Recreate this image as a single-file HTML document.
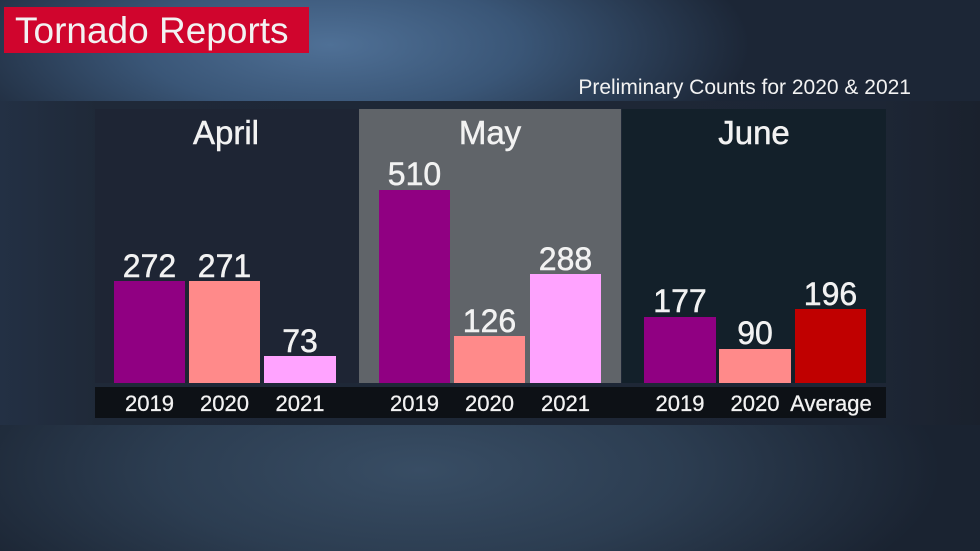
<!DOCTYPE html>
<html>
<head>
<meta charset="utf-8">
<style>
  html,body{margin:0;padding:0;background:#1c2534;}
  svg{display:block;}
  text{font-family:"Liberation Sans", Arial, sans-serif;fill:#f2f2f2;}
  .b{stroke:#f2f2f2;stroke-width:0.5;}
</style>
</head>
<body>
<svg width="980" height="551" viewBox="0 0 980 551" xmlns="http://www.w3.org/2000/svg">
  <defs>
    <radialGradient id="topg" cx="330" cy="45" r="420" gradientUnits="userSpaceOnUse" gradientTransform="translate(330 45) scale(1 0.35) translate(-330 -45)">
      <stop offset="0" stop-color="#4f7096"/>
      <stop offset="0.45" stop-color="#3a5677"/>
      <stop offset="1" stop-color="#1c2636"/>
    </radialGradient>
    <radialGradient id="botg" cx="420" cy="470" r="520" gradientUnits="userSpaceOnUse" gradientTransform="translate(420 470) scale(1 0.35) translate(-420 -470)">
      <stop offset="0" stop-color="#384d64"/>
      <stop offset="0.5" stop-color="#2c3d51"/>
      <stop offset="1" stop-color="#1a2331"/>
    </radialGradient>
    <linearGradient id="bandg" x1="0" y1="0" x2="1" y2="0">
      <stop offset="0" stop-color="#233044"/>
      <stop offset="0.1" stop-color="#1f2938"/>
      <stop offset="0.9" stop-color="#1d2635"/>
      <stop offset="1" stop-color="#1a212d"/>
    </linearGradient>
  </defs>

  <!-- background -->
  <rect x="0" y="0" width="980" height="551" fill="#1c2534"/>
  <rect x="0" y="0" width="980" height="101" fill="url(#topg)"/>
  <rect x="0" y="425" width="980" height="126" fill="url(#botg)"/>
  <rect x="0" y="101" width="980" height="324" fill="url(#bandg)"/>

  <!-- title -->
  <rect x="4" y="7" width="305" height="46" fill="#d0052d"/>
  <text x="15" y="43" font-size="37" fill="#efefef">Tornado Reports</text>

  <text x="911" y="94" font-size="21" text-anchor="end">Preliminary Counts for 2020 &amp; 2021</text>

  <!-- panels -->
  <rect x="95" y="109" width="264" height="274" fill="#1e2534"/>
  <rect x="359" y="109" width="262" height="274" fill="#606469"/>
  <rect x="622" y="109" width="264" height="274" fill="#13202a"/>

  <!-- label bar -->
  <rect x="95" y="387" width="791" height="31" fill="#0d1116"/>

  <!-- month titles -->
  <g class="b">
  <text x="226" y="144" font-size="33" text-anchor="middle">April</text>
  <text x="490" y="144" font-size="33" text-anchor="middle">May</text>
  <text x="754" y="144" font-size="33" text-anchor="middle">June</text>
  </g>

  <!-- April bars -->
  <rect x="114" y="281" width="71" height="102" fill="#900082"/>
  <rect x="189" y="281" width="71" height="102" fill="#ff8a8a"/>
  <rect x="264" y="356" width="72" height="27" fill="#ffa3ff"/>
  <!-- May bars -->
  <rect x="379" y="190" width="71" height="193" fill="#900082"/>
  <rect x="454" y="336" width="71" height="47" fill="#ff8a8a"/>
  <rect x="530" y="274" width="71" height="109" fill="#ffa3ff"/>
  <!-- June bars -->
  <rect x="644" y="317" width="72" height="66" fill="#900082"/>
  <rect x="719" y="349" width="72" height="34" fill="#ff8a8a"/>
  <rect x="795" y="309" width="71" height="74" fill="#c00000"/>

  <g class="b" font-size="32" text-anchor="middle">
    <text x="149.5" y="277">272</text>
    <text x="224.5" y="277">271</text>
    <text x="300" y="352">73</text>
    <text x="414.5" y="185">510</text>
    <text x="489.5" y="332">126</text>
    <text x="565.5" y="270">288</text>
    <text x="680" y="312">177</text>
    <text x="755" y="344">90</text>
    <text x="830.5" y="305">196</text>
  </g>

  <!-- year labels -->
  <g font-size="22" text-anchor="middle" style="stroke:#f2f2f2;stroke-width:0.3">
    <text x="149.5" y="411">2019</text>
    <text x="224.5" y="411">2020</text>
    <text x="300" y="411">2021</text>
    <text x="414.5" y="411">2019</text>
    <text x="489.5" y="411">2020</text>
    <text x="565.5" y="411">2021</text>
    <text x="680" y="411">2019</text>
    <text x="755" y="411">2020</text>
    <text x="831" y="411">Average</text>
  </g>
</svg>
</body>
</html>
